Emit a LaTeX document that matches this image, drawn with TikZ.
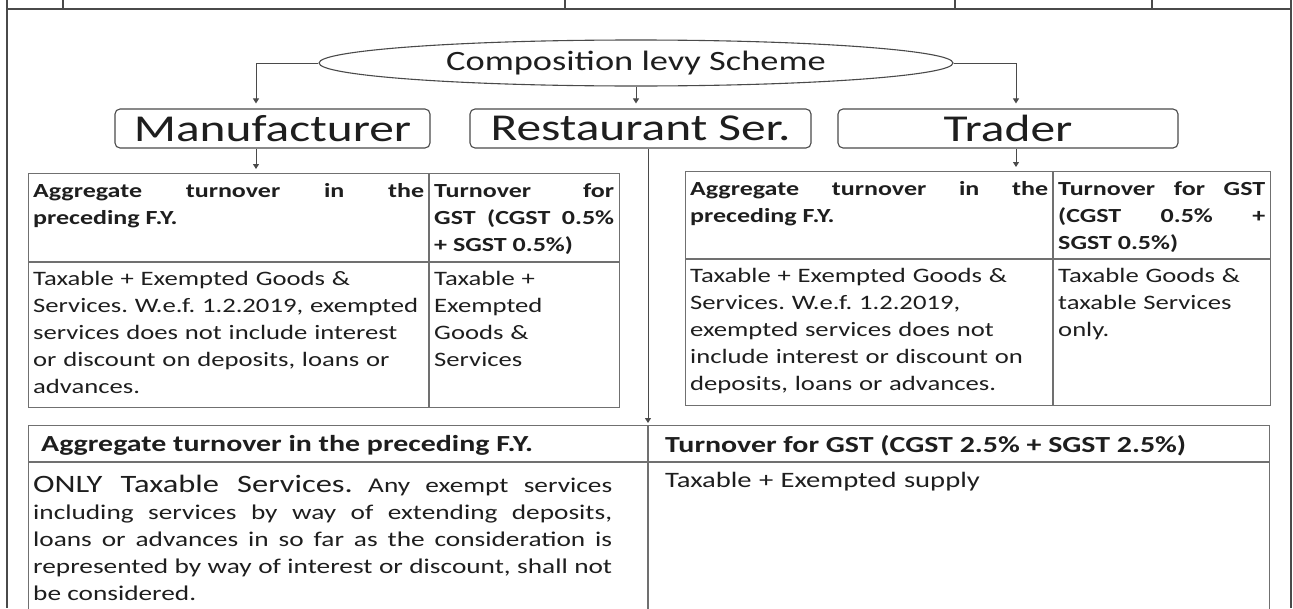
\documentclass[tikz,border=0pt]{standalone}
\usepackage{fontspec}
\setmainfont{Carlito}[FakeStretch=1.3]
\usetikzlibrary{arrows.meta,positioning,shapes.geometric}
\definecolor{ink}{HTML}{1E1E1E}
\definecolor{rule}{HTML}{4A4A4A}
\definecolor{grid}{HTML}{707070}
\newcommand\fsz[2]{\fontsize{#1}{#2}\selectfont}
\frenchspacing
\hyphenpenalty=10000
\exhyphenpenalty=10000

\begin{document}
\begin{tikzpicture}[
  x=1pt, y=-1pt,
  every node/.style={text=ink},
  catbox/.style={draw=rule, line width=1.1pt, rounded corners=5pt,
    minimum height=39pt, inner sep=0pt, font=\fsz{38}{40}},
  flow/.style={-{Triangle[length=5pt,width=6pt]}, draw=rule, line width=1pt},
  frame/.style={draw=rule, line width=1.5pt},
  tab/.style={draw=grid, line width=1.1pt, anchor=north west, inner sep=0pt},
  tabline/.style={draw=grid, line width=1.1pt},
  hcell/.style={anchor=north west, inner xsep=5pt, inner ysep=10pt,
    align=justify, font=\bfseries\fsz{20}{27}},
  bcell/.style={anchor=north west, inner xsep=5pt, inner ysep=9pt,
    align=left, font=\fsz{20.5}{27}},
]
  \useasboundingbox (0,0) rectangle (1293,608);

  % page frame with the cut row above
  \draw[frame] (7,0) -- (7,608);
  \draw[frame] (1291,0) -- (1291,608);
  \draw[frame] (7,9) -- (1291,9);
  \foreach \cx in {63,565,955,1152}
    \draw[frame, line width=1.1pt] (\cx,0) -- (\cx,9);

  % scheme and its three heads
  \node[ellipse, draw=rule, line width=1.1pt, minimum width=634pt,
    minimum height=46pt, inner sep=0pt, font=\fsz{28}{30}] (comp) at (636,63)
    {Composition levy Scheme};
  \node[catbox, minimum width=315pt] (man) at (272.5,128.5) {Manufacturer};
  \node[catbox, minimum width=341pt] (rest) at (640.5,128.5) {Restaurant Ser.};
  \node[catbox, minimum width=340pt] (trad) at (1008,128.5) {Trader};

  \draw[flow, shorten >=5pt] (comp.west) -| ([xshift=-16.5pt]man.north);
  \draw[flow, shorten >=5pt] (comp.south) -- (comp.south |- rest.north);
  \draw[flow, shorten >=5pt] (comp.east) -| ([xshift=8pt]trad.north);

  % manufacturer table
  \node[tab, minimum width=591pt, minimum height=234pt] (mtab) at (28,173) {};
  \draw[tabline] (28,262) -- (619,262);
  \draw[tabline] (429,173) -- (429,407);
  \node[hcell, text width=391pt] (mh1) at (28,173)
    {Aggregate turnover in the\linebreak preceding F.Y.};
  \node[hcell, text width=180pt] (mh2) at (429,173)
    {Turnover for\linebreak GST (CGST 0.5\%\linebreak + SGST 0.5\%)};
  \node[bcell, text width=391pt] (mb1) at (28,262)
    {Taxable + Exempted Goods \&\\Services. W.e.f. 1.2.2019, exempted\\services does not include interest\\or discount on deposits, loans or\\advances.};
  \node[bcell, text width=180pt] (mb2) at (429,262)
    {Taxable +\\Exempted\\Goods \&\\Services};

  % trader table
  \node[tab, minimum width=585pt, minimum height=234pt] (ttab) at (685,171) {};
  \draw[tabline] (685,259) -- (1270,259);
  \draw[tabline] (1053,171) -- (1053,405);
  \node[hcell, text width=358pt] (th1) at (685,171)
    {Aggregate turnover in the\linebreak preceding F.Y.};
  \node[hcell, text width=207pt] (th2) at (1053,171)
    {Turnover for GST\linebreak (CGST 0.5\% +\linebreak SGST 0.5\%)};
  \node[bcell, text width=358pt] (tb1) at (685,259)
    {Taxable + Exempted Goods \&\\Services. W.e.f. 1.2.2019,\\exempted services does not\\include interest or discount on\\deposits, loans or advances.};
  \node[bcell, text width=207pt] (tb2) at (1053,259)
    {Taxable Goods \&\\taxable Services\\only.};

  \draw[flow, shorten >=4pt] ([xshift=-16.5pt]man.south) -- ([xshift=-16.5pt]man.south |- mtab.north);
  \draw[flow, shorten >=4pt] ([xshift=8pt]trad.south) -- ([xshift=8pt]trad.south |- ttab.north);

  % restaurant table
  \node[tab, minimum width=1241pt, minimum height=200pt] (btab) at (28,425) {};
  \draw[tabline] (28,462) -- (1269,462);
  \draw[tabline] (648,425) -- (648,625);
  \node[hcell, font=\bfseries\fsz{23}{27}, inner xsep=13pt, text width=594pt] (bh1) at (28,425)
    {Aggregate turnover in the preceding F.Y.};
  \node[hcell, font=\bfseries\fsz{23}{27}, inner xsep=17pt, text width=587pt] (bh2) at (648,425)
    {Turnover for GST (CGST 2.5\% + SGST 2.5\%)};
  \node[hcell, font=\fsz{21}{27}, inner ysep=13pt, text width=579pt] (bb1) at (28,462)
    {{\fsz{25}{27}ONLY Taxable Services.} Any exempt services\linebreak including services by way of extending deposits,\linebreak loans or advances in so far as the consideration is\linebreak represented by way of interest or discount, shall not\linebreak be considered.};
  \node[bcell, font=\fsz{22}{27}, inner xsep=17pt, inner ysep=10pt, text width=587pt] (bb2) at (648,462)
    {Taxable + Exempted supply};

  \draw[flow, shorten >=2pt] ([xshift=7.5pt]rest.south) -- ([xshift=7.5pt]rest.south |- btab.north);
\end{tikzpicture}
\end{document}
